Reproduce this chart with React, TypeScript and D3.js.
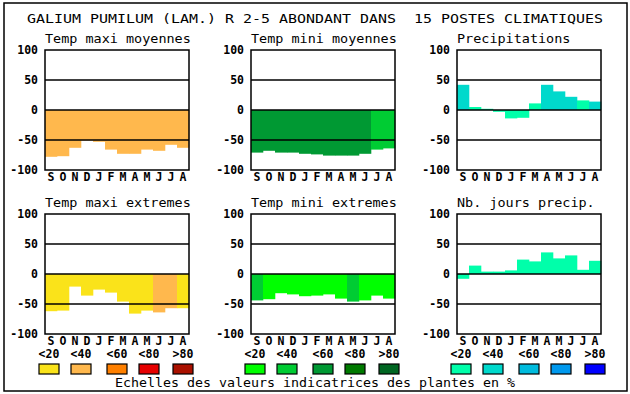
import React from "react";
import * as d3 from "d3";

const months = ["S", "O", "N", "D", "J", "F", "M", "A", "M", "J", "J", "A"];
const ticks = [100, 50, 0, -50, -100];
const legendLabels = ["<20", "<40", "<60", "<80", ">80"];

// class index -> palette of each family
const warmColors = ["#FAE31A", "#FFB84D", "#FF8000", "#E60000", "#AA1100"];
const greenColors = ["#00FF00", "#00CC33", "#009933", "#007A00", "#006622"];
const blueColors = ["#00FFAA", "#00D9CC", "#00BBDD", "#0099EE", "#0000FF"];

const tmaxMoy = [-78, -77, -63, -51, -53, -66, -73, -73, -66, -68, -58, -63];
const tmaxMoyCls = [1, 1, 1, 1, 1, 1, 1, 1, 1, 1, 1, 1];
const tminMoy = [-71, -68, -71, -71, -73, -74, -76, -76, -76, -73, -66, -64];
const tminMoyCls = [2, 2, 2, 2, 2, 2, 2, 2, 2, 2, 1, 1];
const precip = [42, 5, 2, -3, -14, -13, 11, 42, 31, 22, 16, 14];
const precipCls = [1, 0, 0, 0, 0, 0, 0, 1, 1, 1, 0, 1];
const tmaxExt = [-62, -61, -21, -36, -26, -31, -46, -66, -61, -64, -57, -57];
const tmaxExtCls = [0, 0, 0, 0, 0, 0, 0, 0, 0, 1, 1, 0];
const tminExt = [-44, -42, -32, -34, -37, -36, -34, -41, -46, -44, -36, -41];
const tminExtCls = [1, 0, 0, 0, 0, 0, 0, 0, 1, 0, 0, 0];
const nbJours = [-8, 14, 4, 4, 6, 24, 21, 36, 26, 31, 7, 22];
const nbJoursCls = [0, 0, 0, 0, 0, 0, 0, 0, 0, 0, 0, 0];

const panels = [
  { title: "Temp maxi moyennes", values: tmaxMoy, cls: tmaxMoyCls, palette: warmColors, col: 0, row: 0 },
  { title: "Temp mini moyennes", values: tminMoy, cls: tminMoyCls, palette: greenColors, col: 1, row: 0 },
  { title: "Precipitations", values: precip, cls: precipCls, palette: blueColors, col: 2, row: 0 },
  { title: "Temp maxi extremes", values: tmaxExt, cls: tmaxExtCls, palette: warmColors, col: 0, row: 1 },
  { title: "Temp mini extremes", values: tminExt, cls: tminExtCls, palette: greenColors, col: 1, row: 1 },
  { title: "Nb. jours precip.", values: nbJours, cls: nbJoursCls, palette: blueColors, col: 2, row: 1 },
];

const W = 630;
const H = 394;
const plotW = 144;
const plotH = 120;
const colX = [45, 251, 457];
const rowY = [50, 214];
const legendOffsets = [-6, 26, 62, 94, 128];
const font = "'DejaVu Sans Mono', monospace";

const x = d3.scaleBand<number>().domain(d3.range(12)).range([0, plotW]).padding(0);
const y = d3.scaleLinear().domain([-100, 100]).range([plotH, 0]);

const Panel = ({ p }: { p: (typeof panels)[number] }) => {
  const px = colX[p.col];
  const py = rowY[p.row];
  return (
    <g transform={`translate(${px},${py})`}>
      <text x={0} y={-7} fontFamily={font} fontSize={13} textLength={p.title.length * 8.1} lengthAdjust="spacingAndGlyphs">
        {p.title}
      </text>
      {p.values.map((v, i) => (
        <rect
          key={i}
          x={x(i)}
          width={x.bandwidth() + 0.3}
          y={y(Math.max(0, v))}
          height={Math.abs(y(v) - y(0))}
          fill={p.palette[p.cls[i]]}
        />
      ))}
      {[50, 0, -50].map((t) => (
        <line key={t} x1={0} x2={plotW} y1={y(t)} y2={y(t)} stroke="#000" strokeWidth={1.5} />
      ))}
      <rect x={0} y={0} width={plotW} height={plotH} fill="none" stroke="#000" strokeWidth={1.5} />
      {ticks.map((t) => (
        <text key={t} x={-7} y={y(t) + 4} textAnchor="end" fontFamily={font} fontWeight="bold" fontSize={11.5}>
          {t}
        </text>
      ))}
      {months.map((m, i) => (
        <text
          key={i}
          x={(x(i) ?? 0) + x.bandwidth() / 2}
          y={plotH + 11}
          textAnchor="middle"
          fontFamily={font}
          fontWeight="bold"
          fontSize={11.5}
        >
          {m}
        </text>
      ))}
    </g>
  );
};

const App = () => {
  const palettes = [warmColors, greenColors, blueColors];
  return (
    <svg width={W} height={H} style={{ position: "absolute", left: 0, top: 0, background: "#fff" }}>
      <rect x={4} y={3} width={623} height={388} fill="#fff" stroke="#000" strokeWidth={1.5} />
      <text
        x={27}
        y={23}
        fontFamily={font}
        fontSize={13}
        textLength={576}
        lengthAdjust="spacingAndGlyphs"
        style={{ whiteSpace: "pre" }}
      >
        {"GALIUM PUMILUM (LAM.) R 2-5 ABONDANT DANS  15 POSTES CLIMATIQUES"}
      </text>
      {panels.map((p, i) => (
        <Panel key={i} p={p} />
      ))}
      {palettes.map((pal, g) => (
        <g key={g} transform={`translate(${colX[g]},0)`}>
          {pal.map((c, k) => (
            <g key={k}>
              <text
                x={legendOffsets[k] + 10}
                y={358}
                textAnchor="middle"
                fontFamily={font}
                fontWeight="bold"
                fontSize={11.5}
              >
                {legendLabels[k]}
              </text>
              <rect x={legendOffsets[k]} y={364} width={20} height={10} fill={c} stroke="#000" strokeWidth={1.2} />
            </g>
          ))}
        </g>
      ))}
      <text x={315} y={387} textAnchor="middle" fontFamily={font} fontSize={13} textLength={400} lengthAdjust="spacingAndGlyphs">
        Echelles des valeurs indicatrices des plantes en %
      </text>
    </svg>
  );
};

export default App;
